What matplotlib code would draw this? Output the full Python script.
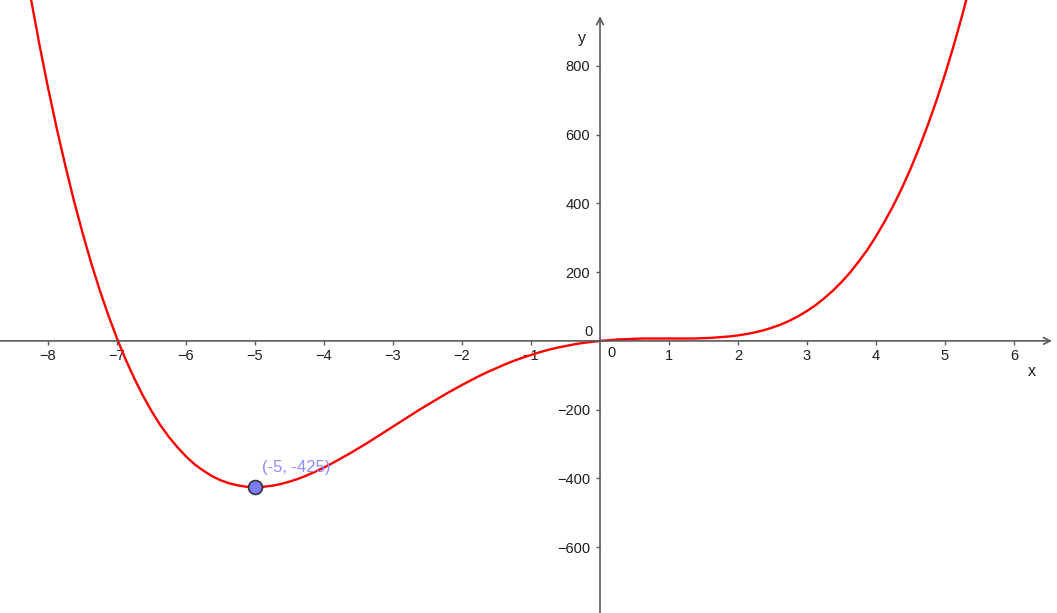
import numpy as np
import matplotlib as mpl
mpl.use('Agg')
import matplotlib.pyplot as plt

plt.rcParams['font.family'] = ['Liberation Sans', 'DejaVu Sans']

# curve values (x step 0.125)
xs = [-8.5, -8.375, -8.25, -8.125, -8.0, -7.875, -7.75, -7.625, -7.5, -7.375,
      -7.25, -7.125, -7.0, -6.875, -6.75, -6.625, -6.5, -6.375, -6.25, -6.125,
      -6.0, -5.875, -5.75, -5.625, -5.5, -5.375, -5.25, -5.125, -5.0, -4.875,
      -4.75, -4.625, -4.5, -4.375, -4.25, -4.125, -4.0, -3.875, -3.75, -3.625,
      -3.5, -3.375, -3.25, -3.125, -3.0, -2.875, -2.75, -2.625, -2.5, -2.375,
      -2.25, -2.125, -2.0, -1.875, -1.75, -1.625, -1.5, -1.375, -1.25, -1.125,
      -1.0, -0.875, -0.75, -0.625, -0.5, -0.375, -0.25, -0.125, 0.0, 0.125,
      0.25, 0.375, 0.5, 0.625, 0.75, 0.875, 1.0, 1.125, 1.25, 1.375,
      1.5, 1.625, 1.75, 1.875, 2.0, 2.125, 2.25, 2.375, 2.5, 2.625,
      2.75, 2.875, 3.0, 3.125, 3.25, 3.375, 3.5, 3.625, 3.75, 3.875,
      4.0, 4.125, 4.25, 4.375, 4.5, 4.625, 4.75, 4.875, 5.0, 5.125,
      5.25, 5.375, 5.5]
ys = [1293, 1140, 997, 862, 736, 619, 510, 408, 314, 227,
      147, 74, 7, -54, -109, -159, -204, -244, -279, -309,
      -336, -359, -377, -393, -405, -414, -420, -424, -425, -424,
      -421, -416, -409, -401, -391, -380, -368, -355, -341, -327,
      -312, -297, -281, -265, -249, -233, -217, -201, -186, -171,
      -156, -142, -128, -115, -102, -90, -79, -68, -58, -49,
      -41, -33, -26, -20, -15, -10, -6, -3, 0, 2,
      4, 5, 6, 7, 7, 7, 7, 7, 7, 7,
      8, 9, 11, 13, 16, 20, 25, 31, 39, 48,
      59, 72, 87, 104, 124, 146, 171, 199, 231, 265,
      304, 347, 393, 444, 500, 561, 627, 698, 775, 858,
      947, 1043, 1146]

pt_x, pt_y = -5, -425
pt_label = "(-5, -425)"

xticks = [-8, -7, -6, -5, -4, -3, -2, -1, 1, 2, 3, 4, 5, 6]
yticks = [-600, -400, -200, 200, 400, 600, 800]

axis_col = '#5a5a5a'
txt_col = '#1e1e1e'

fig = plt.figure(figsize=(10.57, 6.13), dpi=100)
ax = fig.add_axes([0, 0, 1, 1])
ax.set_xlim(-8.696, 6.623)
ax.set_ylim(-791, 991)

ax.plot(xs, ys, color='#ff0000', lw=1.7, solid_joinstyle='round', zorder=3)
ax.plot([pt_x], [pt_y], 'o', ms=10, mfc='#7c7cff', mec='#333333', mew=1.2, zorder=4)
ax.text(-4.90, -369, pt_label, color='#8c8cff', fontsize=12, ha='left', va='center')

# axes through the origin
for s in ['top', 'right']:
    ax.spines[s].set_visible(False)
ax.spines['left'].set_position(('data', 0))
ax.spines['bottom'].set_position(('data', 0))
ax.spines['left'].set_visible(False)
ax.spines['bottom'].set_visible(False)

ax.annotate('', xy=(6.55, 0), xytext=(-8.696, 0),
            arrowprops=dict(arrowstyle='->', color=axis_col, lw=1.2, mutation_scale=12,
                            shrinkA=0, shrinkB=0))
ax.annotate('', xy=(0, 944), xytext=(0, -791),
            arrowprops=dict(arrowstyle='->', color=axis_col, lw=1.2, mutation_scale=12,
                            shrinkA=0, shrinkB=0))

ax.set_xticks(xticks)
ax.set_yticks(yticks)
ax.tick_params(axis='both', direction='out', length=3, width=1, color=axis_col,
               labelsize=10.5, labelcolor=txt_col)
ax.tick_params(axis='x', pad=3)
ax.tick_params(axis='y', pad=4)

ax.text(-0.17, 26, '0', fontsize=10.5, color=txt_col, ha='center', va='center')
ax.text(0.17, -35, '0', fontsize=10.5, color=txt_col, ha='center', va='center')
ax.text(-0.26, 880, 'y', fontsize=11.5, color=txt_col, ha='center', va='center')
ax.text(6.26, -90, 'x', fontsize=11.5, color=txt_col, ha='center', va='center')

plt.savefig('out.png', dpi=100)
